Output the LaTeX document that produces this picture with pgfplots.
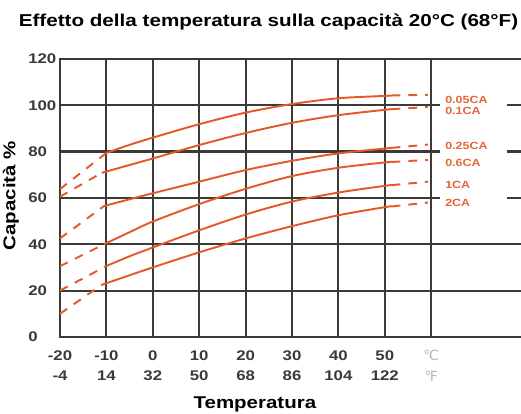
\documentclass[border=0pt]{standalone}
\usepackage{fontspec}
\setmainfont{Liberation Sans}[FakeStretch=1.2]
\newfontfamily\dejavu{DejaVu Sans}
\usepackage{pgfplots}
\pgfplotsset{compat=1.18}
\definecolor{gridc}{HTML}{3D3936}
\definecolor{curvec}{HTML}{E4582A}
\definecolor{labc}{HTML}{E8643A}
\definecolor{tickc}{HTML}{3A3A3A}
\definecolor{cgray}{HTML}{B5B5B5}
\begin{document}
\begin{tikzpicture}
\begin{axis}[
 x=3.48pt, y=1.7378pt,
 xmin=-20, xmax=79.35, ymin=0, ymax=120,
 axis line style={draw=none},
 clip=false,
 xtick={-20,-10,0,10,20,30,40,50,60},
 ytick={0,20,40,60,80,100,120},
 major tick length=0pt,
 grid=major,
 major grid style={line width=1.6pt, color=gridc, line cap=rect},
 xticklabels={{-20\\-4},{-10\\14},{0\\32},{10\\50},{20\\68},{30\\86},{40\\104},{50\\122},{{\dejavu\mdseries\color{cgray}℃}\\{\dejavu\mdseries\color{cgray}℉}}},
 xticklabel style={align=center, anchor=north, inner sep=0pt, yshift=-10pt, text=tickc, font=\bfseries\fontsize{10.5}{15.5}\selectfont},
 yticklabels={0,20,40,60,80,100,120},
 yticklabel style={anchor=west, inner sep=0pt, xshift=-24pt, text=tickc, font=\bfseries\fontsize{10.5}{12}\selectfont},
]
% gaps in the grid behind the curve labels
\fill[white] (axis cs:61.9,98.6) rectangle (axis cs:76.3,101.4);
\fill[white] (axis cs:61.9,78.6) rectangle (axis cs:76.3,81.4);
\fill[white] (axis cs:61.9,58.6) rectangle (axis cs:76.3,61.4);

% 0.05CA
\addplot[curvec, line width=1.45pt, dash pattern=on 6.5pt off 6pt] coordinates {(-20,63.8) (-10,79.4)};
\addplot[curvec, line width=1.45pt, smooth] coordinates {(-10,79.4) (-5,82.9) (0,86) (10,91.8) (20,96.8) (30,100.5) (40,103) (50,104) (51.5,104.2)};
\addplot[curvec, line width=1.45pt, dash pattern=on 6.5pt off 6pt] coordinates {(51.5,104.2) (59.3,104.5)};
% 0.1CA
\addplot[curvec, line width=1.45pt, dash pattern=on 6.5pt off 6pt] coordinates {(-20,60.5) (-11,70.8)};
\addplot[curvec, line width=1.45pt, smooth] coordinates {(-11,70.8) (-5,74.2) (0,77) (10,82.8) (20,88) (30,92.4) (40,95.7) (50,98) (51.5,98.3)};
\addplot[curvec, line width=1.45pt, dash pattern=on 6.5pt off 6pt] coordinates {(51.5,98.3) (59.3,99.2)};
% 0.25CA
\addplot[curvec, line width=1.45pt, dash pattern=on 6.5pt off 6pt] coordinates {(-20,42.5) (-10.5,56.5)};
\addplot[curvec, line width=1.45pt, smooth] coordinates {(-10.5,56.5) (-5,59.4) (0,62) (10,67) (20,72) (30,76) (40,79.2) (50,81.3) (51.5,81.6)};
\addplot[curvec, line width=1.45pt, dash pattern=on 6.5pt off 6pt] coordinates {(51.5,81.6) (59.3,83)};
% 0.6CA
\addplot[curvec, line width=1.45pt, dash pattern=on 6.5pt off 6pt] coordinates {(-20,30.5) (-10.5,40)};
\addplot[curvec, line width=1.45pt, smooth] coordinates {(-10.5,40) (-5,45.2) (0,49.8) (10,57.3) (20,63.9) (30,69.4) (40,73) (50,75.3) (51.5,75.5)};
\addplot[curvec, line width=1.45pt, dash pattern=on 6.5pt off 6pt] coordinates {(51.5,75.5) (59.3,76.4)};
% 1CA
\addplot[curvec, line width=1.45pt, dash pattern=on 6.5pt off 6pt] coordinates {(-20,20) (-10,30.6)};
\addplot[curvec, line width=1.45pt, smooth] coordinates {(-10,30.6) (-5,34.8) (0,38.6) (10,46) (20,52.8) (30,58.4) (40,62.3) (50,65.2) (51.5,65.5)};
\addplot[curvec, line width=1.45pt, dash pattern=on 6.5pt off 6pt] coordinates {(51.5,65.5) (59.3,67)};
% 2CA
\addplot[curvec, line width=1.45pt, dash pattern=on 6.5pt off 6pt] coordinates {(-20,10) (-11,22.5)};
\addplot[curvec, line width=1.45pt, smooth] coordinates {(-11,22.5) (-5,26.6) (0,30) (10,36.5) (20,42.5) (30,47.8) (40,52.5) (50,56) (51.5,56.3)};
\addplot[curvec, line width=1.45pt, dash pattern=on 6.5pt off 6pt] coordinates {(51.5,56.3) (59.3,58)};

% curve labels
\begin{scope}[every node/.style={anchor=west, inner sep=0pt, text=labc, font=\bfseries\fontsize{7.8}{8}\selectfont}]
\node at (axis cs:62.97,102.3) {0.05CA};
\node at (axis cs:62.97,97.5) {0.1CA};
\node at (axis cs:62.97,82.4) {0.25CA};
\node at (axis cs:62.97,75.1) {0.6CA};
\node at (axis cs:62.97,65.6) {1CA};
\node at (axis cs:62.97,57.8) {2CA};
\end{scope}

% title and axis labels
\node[anchor=base, inner sep=0pt, text=black, font=\bfseries\fontsize{12.9}{14}\selectfont] at (axis cs:24.94,133.8) {Effetto della temperatura sulla capacità 20°C (68°F)};
\node[anchor=base, inner sep=0pt, text=black, font=\bfseries\fontsize{12.8}{14}\selectfont] at (axis cs:22.0,-30.9) {Temperatura};
\node[anchor=base, rotate=90, inner sep=0pt, text=black, font=\bfseries\fontsize{12.8}{14}\selectfont] at (axis cs:-29.6,60.9) {Capacità \%};

\coordinate (bbll) at (axis cs:-32.93,-33.2);
\coordinate (bbur) at (axis cs:79.35,145.4);
\end{axis}
\pgfresetboundingbox
\path[use as bounding box] (bbll) rectangle (bbur);
\end{tikzpicture}
\end{document}
